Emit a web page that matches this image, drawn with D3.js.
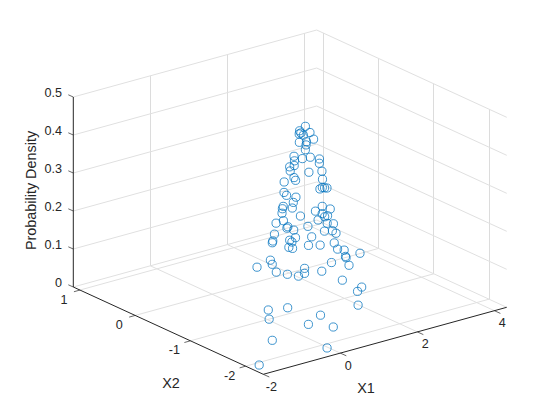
<!DOCTYPE html>
<html><head><meta charset="utf-8"><style>
html,body{margin:0;background:#fff}
text{font-family:"Liberation Sans",Arial,sans-serif;fill:#262626}
</style></head><body><script src="https://cdn.jsdelivr.net/npm/d3@7"></script><script>
const x1Ticks=[-2,0,2,4];
const x2Ticks=[-2,-1,0,1];
const zTicks=[0,0.1,0.2,0.3,0.4,0.5];
const zTickLabels=["0","0.1","0.2","0.3","0.4","0.5"];
const x1Label="X1",x2Label="X2",zLabel="Probability Density";
const x1Domain=[-2,4.32],x2Domain=[1.12,-2.32],zDomain=[0,0.5];
const x1Vals=[1.00,0.95,0.99,0.84,0.94,0.79,1.07,0.70,0.77,0.73,0.67,0.59,0.55,0.74,1.15,0.53,1.09,0.48,0.75,0.52,
0.59,1.20,0.36,0.33,1.10,0.65,1.01,0.89,1.14,1.36,0.56,0.31,0.21,0.17,0.85,1.33,0.31,0.36,0.13,0.25,
0.53,0.79,0.87,1.06,0.14,0.57,0.10,0.54,0.95,1.37,0.00,0.22,-0.01,-0.02,0.75,1.20,1.48,-0.09,0.26,-0.06,
-0.11,-0.09,-0.16,-0.11,-0.16,-0.15,0.12,0.48,1.19,1.32,2.05,1.97,2.00,3.78,2.09,0.76,0.12,-0.09,-0.60,-0.30,
-0.37,-0.27,-0.11,-0.14,0.35,1.20,2.29,1.91,1.58,-0.68,-0.65,-0.83,-0.07,-0.47,0.19,-1.15,-0.33,-1.82];
const x2Vals=[-0.99,-0.92,-1.08,-1.02,-0.92,-1.10,-1.09,-1.09,-1.17,-1.19,-1.22,-1.07,-1.25,-1.26,-1.14,-1.12,-1.18,-1.15,-0.88,-1.05,
-1.34,-1.15,-1.23,-1.28,-1.23,-0.85,-1.29,-1.33,-1.24,-1.13,-0.91,-1.13,-1.37,-1.35,-1.40,-1.21,-1.07,-1.02,-1.36,-1.09,
-1.50,-1.44,-1.43,-1.35,-1.50,-1.52,-1.22,-0.78,-1.42,-1.24,-1.37,-1.58,-1.36,-1.49,-1.51,-1.34,-1.21,-1.19,-1.62,-1.55,
-1.48,-1.16,-1.20,-1.52,-1.50,-1.56,-1.66,-1.62,-1.38,-1.35,-0.96,-1.04,-1.03,-0.04,-1.02,-1.63,-0.97,-1.15,-1.23,-1.37,
-1.62,-1.75,-1.75,-1.77,-1.74,-1.52,-1.11,-1.30,-1.54,-1.49,-1.82,-1.61,-2.01,-2.07,-2.06,-1.89,-2.31,-2.12];
const densityVals=[.480,.465,.470,.469,.457,.470,.451,.453,.458,.452,.443,.418,.425,.424,.400,.411,.393,.402,.373,.380,
.394,.367,.379,.376,.354,.334,.339,.341,.331,.317,.313,.327,.341,.327,.301,.268,.294,.283,.314,.279,
.304,.286,.275,.267,.302,.281,.272,.224,.255,.230,.269,.278,.265,.269,.246,.223,.200,.240,.252,.254,
.244,.220,.220,.242,.228,.229,.236,.224,.194,.172,.123,.114,.109,.005,.086,.171,.151,.158,.170,.158,
.171,.172,.188,.177,.167,.105,.029,.041,.030,.077,.104,.065,.081,.072,.046,.037,.022,.006];

const W=560,H=420;
const svg=d3.select("body").append("svg").attr("width",W).attr("height",H).style("display","block");
const sx1=d3.scaleLinear().domain(x1Domain).range([0,1]);
const sx2=d3.scaleLinear().domain(x2Domain).range([0,1]);
const sz=d3.scaleLinear().domain(zDomain).range([0,1]);
const origin=[73.3,287],ex1=[243.4,-67],ex2=[190,87.3],ez=[0,-190];
const proj=(a,b,c)=>{const u=sx1(a),v=sx2(b),w=sz(c);
  return [origin[0]+u*ex1[0]+v*ex2[0]+w*ez[0],origin[1]+u*ex1[1]+v*ex2[1]+w*ez[1]];};
const [x1a,x1b]=x1Domain,[x2a,x2b]=x2Domain,[za,zb]=zDomain;
const seg=(g,p,q,col,w)=>g.append("line").attr("x1",p[0]).attr("y1",p[1]).attr("x2",q[0]).attr("y2",q[1]).attr("stroke",col).attr("stroke-width",w);
const gridCol="#e0e0e0",axCol="#262626";
const vert=(g,p,q)=>seg(g,[Math.floor(p[0])+0.5,p[1]],[Math.floor(q[0])+0.5,q[1]],"#dcdcdc",1);
const grid=svg.append("g");
// lines of constant X1: floor and back wall
x1Ticks.filter(t=>t>x1a).forEach(t=>{seg(grid,proj(t,x2a,za),proj(t,x2b,za),gridCol,1);vert(grid,proj(t,x2a,za),proj(t,x2a,zb));});
// lines of constant X2: floor and right wall
x2Ticks.forEach(t=>{seg(grid,proj(x1a,t,za),proj(x1b,t,za),gridCol,1);vert(grid,proj(x1b,t,za),proj(x1b,t,zb));});
// lines of constant density on both walls
zTicks.forEach(t=>{seg(grid,proj(x1a,x2a,t),proj(x1b,x2a,t),gridCol,1);seg(grid,proj(x1b,x2a,t),proj(x1b,x2b,t),gridCol,1);});
const ax=svg.append("g");
seg(ax,proj(x1a,x2a,za),proj(x1a,x2a,zb),axCol,1);
seg(ax,proj(x1a,x2a,za),proj(x1a,x2b,za),axCol,1);
seg(ax,proj(x1a,x2b,za),proj(x1b,x2b,za),axCol,1);
const lab=(x,y,s,anchor)=>svg.append("text").attr("x",x).attr("y",y).attr("text-anchor",anchor||"middle").attr("font-size",12.6).attr("dominant-baseline","central").text(s);
x1Ticks.forEach(t=>{const p=proj(t,x2b,za);seg(ax,p,[p[0]+6,p[1]+2.7],axCol,0.7);lab(p[0]+8,p[1]+12.5,String(t));});
x2Ticks.forEach(t=>{const p=proj(x1a,t,za);seg(ax,p,[p[0]-6,p[1]+1.7],axCol,0.7);lab(p[0]-16,p[1]+9.5,String(t));});
zTicks.forEach((t,i)=>{const p=proj(x1a,x2a,t);seg(ax,p,[p[0]-5,p[1]-2.2],axCol,0.7);lab(62,p[1]-3.8,zTickLabels[i],"end");});
const big=(x,y,s,rot)=>svg.append("text").attr("x",x).attr("y",y).attr("text-anchor","middle").attr("dominant-baseline","central").attr("font-size",14.4).attr("transform",rot?`rotate(-90 ${x} ${y})`:null).text(s);
big(366,387.5,x1Label);big(171,383,x2Label);big(31,190.5,zLabel,true);
svg.append("g").selectAll("circle").data(densityVals).join("circle")
 .attr("cx",(d,i)=>proj(x1Vals[i],x2Vals[i],d)[0])
 .attr("cy",(d,i)=>proj(x1Vals[i],x2Vals[i],d)[1])
 .attr("r",4.1).attr("fill","none").attr("stroke","#0072BD").attr("stroke-width",0.75);
</script></body></html>
